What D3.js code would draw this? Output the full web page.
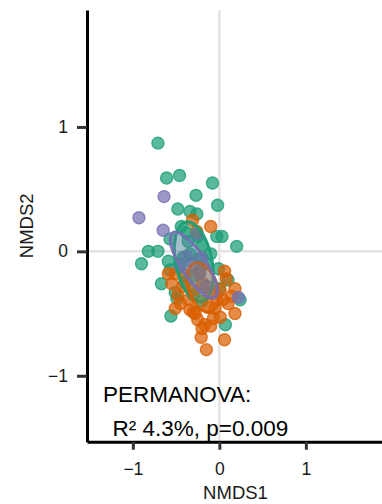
<!DOCTYPE html>
<html>
<head>
<meta charset="utf-8">
<script src="https://cdn.jsdelivr.net/npm/d3@7"></script>
<style>
  html, body { margin: 0; padding: 0; background: #fff; }
  svg { display: block; font-family: "Liberation Sans", Arial, Helvetica, sans-serif; }
</style>
</head>
<body>
<svg id="chart" width="382" height="504"></svg>
<script>
// NMDS ordination scores per group: [NMDS1, NMDS2]
const groups = ["A", "B", "C"];
const groupColors = ["#1b9e77", "#d95f02", "#7570b3"];

const scoresA = [
  [-0.71, 0.87], [-0.61, 0.59], [-0.46, 0.61], [-0.08, 0.55], [-0.27, 0.45],
  [-0.02, 0.37], [-0.48, 0.34], [-0.34, 0.32], [-0.26, 0.30], [-0.44, 0.20],
  [0.03, 0.12], [-0.03, 0.12], [0.20, 0.04], [-0.82, 0.00], [-0.71, 0.00],
  [-0.90, -0.10], [-0.57, 0.10], [-0.59, -0.08], [-0.67, -0.26], [-0.57, -0.15],
  [-0.49, -0.38], [-0.56, -0.52], [0.10, -0.23], [0.24, -0.39], [-0.01, -0.14],
  [0.07, -0.59], [-0.51, -0.33], [-0.34, -0.02], [-0.23, -0.06], [-0.46, -0.10],
  [-0.25, 0.12], [-0.38, 0.15], [-0.20, 0.05], [-0.30, -0.20], [-0.40, -0.25],
  [-0.15, -0.10], [-0.10, -0.02], [-0.36, 0.08], [-0.42, -0.05], [-0.20, -0.40],
  [-0.30, -0.35], [0.00, -0.30]
];
const scoresB = [
  [-0.31, 0.25], [-0.10, 0.20], [-0.26, 0.16], [0.06, -0.16], [0.08, -0.22],
  [0.18, -0.30], [0.14, -0.36], [0.18, -0.50], [0.06, -0.71], [-0.21, -0.69],
  [-0.15, -0.79], [-0.17, -0.59], [-0.25, -0.55], [-0.07, -0.54], [0.01, -0.53],
  [-0.51, -0.46], [-0.48, -0.35], [-0.55, -0.26], [-0.51, -0.18], [-0.36, -0.39],
  [-0.34, -0.47], [-0.03, -0.39], [0.04, -0.39], [-0.23, -0.16], [-0.11, -0.34],
  [-0.19, -0.26], [-0.30, -0.31], [0.01, -0.31], [-0.05, -0.46], [-0.28, -0.50],
  [-0.42, -0.28], [-0.40, -0.19], [-0.30, -0.49], [-0.59, -0.18], [-0.13, -0.45],
  [-0.20, -0.62], [-0.10, -0.60], [0.10, -0.42], [-0.45, -0.42]
];
const scoresC = [
  [-0.64, 0.44], [-0.93, 0.27], [-0.65, 0.17], [0.22, -0.37], [-0.38, -0.04],
  [-0.23, -0.18], [-0.30, -0.10], [-0.15, -0.28], [-0.26, 0.14], [-0.45, -0.12],
  [-0.20, -0.05]
];

// Group ellipses: centre and two semi-axis vectors, in NMDS units
const ellipseCenters = [[-0.295, -0.084], [-0.19, -0.29], [-0.295, -0.11]];
const ellipseAxisU = [[0.092, -0.32], [0.098, -0.195], [0.245, -0.26]];
const ellipseAxisV = [[0.205, 0.03], [0.155, 0.04], [0.12, 0.055]];

const xTicks = [-1, 0, 1];
const yTicks = [-1, 0, 1];
const statLine1 = "PERMANOVA:";
const statLine2 = "R\u00b2 4.3%, p=0.009";

const svg = d3.select("#chart");
const panel = { left: 87, right: 382, top: 10, bottom: 441.7 };

const x = d3.scaleLinear().domain([-1.53, 1.88]).range([panel.left, panel.right]);
const y = d3.scaleLinear().domain([-1.53, 1.94]).range([panel.bottom, panel.top]);

// zero reference lines
svg.append("line")
  .attr("x1", x(0)).attr("x2", x(0))
  .attr("y1", panel.top).attr("y2", panel.bottom)
  .attr("stroke", "#e3e3e3").attr("stroke-width", 2.5);
svg.append("line")
  .attr("x1", panel.left).attr("x2", panel.right)
  .attr("y1", y(0)).attr("y2", y(0))
  .attr("stroke", "#e3e3e3").attr("stroke-width", 2.5);

// points
const allScores = [scoresA, scoresB, scoresC];
const pts = svg.append("g");
allScores.forEach((arr, gi) => {
  pts.selectAll(null)
    .data(arr)
    .enter().append("circle")
    .attr("cx", d => x(d[0]))
    .attr("cy", d => y(d[1]))
    .attr("r", 6)
    .attr("fill", groupColors[gi])
    .attr("fill-opacity", 0.72)
    .attr("stroke", groupColors[gi])
    .attr("stroke-opacity", 0.8)
    .attr("stroke-width", 1.4);
});

// ellipses
const eg = svg.append("g");
groups.forEach((g, gi) => {
  const c = ellipseCenters[gi], u = ellipseAxisU[gi], v = ellipseAxisV[gi];
  const ring = d3.range(0, 360, 4).map(deg => {
    const t = deg * Math.PI / 180;
    return [x(c[0] + u[0] * Math.cos(t) + v[0] * Math.sin(t)),
            y(c[1] + u[1] * Math.cos(t) + v[1] * Math.sin(t))];
  });
  eg.append("path")
    .attr("d", d3.line().curve(d3.curveLinearClosed)(ring))
    .attr("fill", groupColors[gi])
    .attr("fill-opacity", 0.3)
    .attr("stroke", groupColors[gi])
    .attr("stroke-opacity", 0.95)
    .attr("stroke-width", 3);
});

// axes
const fmt = d => d < 0 ? "\u2212" + Math.abs(d) : d;
const yAxis = svg.append("g")
  .attr("transform", `translate(${panel.left},0)`)
  .call(d3.axisLeft(y).tickValues(yTicks).tickSize(10).tickSizeOuter(0).tickPadding(9).tickFormat(fmt));
const xAxis = svg.append("g")
  .attr("transform", `translate(0,${panel.bottom})`)
  .call(d3.axisBottom(x).tickValues(xTicks).tickSize(8).tickSizeOuter(0).tickPadding(9).tickFormat(fmt));

[yAxis, xAxis].forEach(a => {
  a.select(".domain").attr("stroke", "#000").attr("stroke-width", 3);
  a.selectAll(".tick line").attr("stroke", "#333").attr("stroke-width", 3);
  a.selectAll(".tick text").attr("fill", "#1a1a1a")
    .style("font-size", "17.5px").style("font-family", "Liberation Sans, Arial, sans-serif");
});
xAxis.selectAll(".tick text").attr("dy", "0.95em");

// axis titles
svg.append("text")
  .attr("x", (panel.left + panel.right) / 2 + 1)
  .attr("y", 499)
  .attr("text-anchor", "middle")
  .attr("fill", "#1a1a1a")
  .style("font-size", "18.5px")
  .text("NMDS1");
svg.append("text")
  .attr("transform", `translate(33,${(panel.top + panel.bottom) / 2}) rotate(-90)`)
  .attr("text-anchor", "middle")
  .attr("fill", "#1a1a1a")
  .style("font-size", "18.5px")
  .text("NMDS2");

// PERMANOVA annotation
svg.append("text")
  .attr("x", 103).attr("y", 402)
  .attr("fill", "#000")
  .style("font-size", "22.5px")
  .text(statLine1);
svg.append("text")
  .attr("x", 112.5).attr("y", 435.5)
  .attr("fill", "#000")
  .style("font-size", "22.5px")
  .text(statLine2);
</script>
</body>
</html>
